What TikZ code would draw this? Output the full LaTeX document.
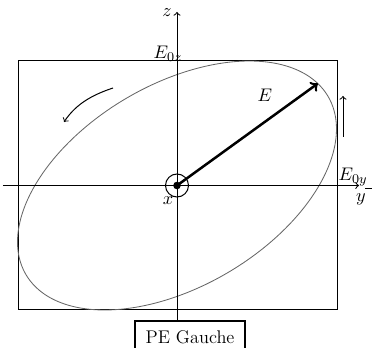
\documentclass[tikz,border=0pt]{standalone}
\begin{document}
\begin{tikzpicture}[x=0.6pt,y=-0.6pt,font=\fontsize{11}{13}\selectfont,
  axis/.style={line width=0.6pt,black},
  frame/.style={line width=0.6pt,black},
  ell/.style={line width=0.5pt,black!60},
  vec/.style={line width=1.5pt,black,-to},
  rot/.style={line width=0.6pt,black,-to},
  lab/.style={inner sep=0pt},
  pebox/.style={draw,line width=1.6pt,minimum width=66pt,minimum height=19pt,inner sep=0pt,fill=white}]
\useasboundingbox (0,0) rectangle (372,348);
\draw[frame] (18,61) rectangle (337,310);
\coordinate (O) at (177,185.5);
\coordinate (ys) at (3,185.5);
\coordinate (ye) at (359,185.5);
\coordinate (zt) at (177,12);
\draw[ell] plot[domain=0:360,samples=150,smooth] ({177+159.5*cos(\x)},{185.5-124.5*cos(\x-63)});
\draw[axis,-to] (ys) -- (ye);
\node[pebox] (pe) at (190,337) {PE Gauche};
\draw[axis,-to] (O |- pe.north) -- (zt);
\coordinate (Etip) at ({177+159.5*cos(28)},{185.5-124.5*cos(28-63)});
\draw[vec] (O) -- (Etip);
\draw[line width=0.6pt] (O) circle[radius=11.5];
\fill (O) circle[radius=3.8];
\coordinate (r1) at (113,88);
\coordinate (r2) at (64,122);
\draw[rot] (r1) .. controls (92,95) and (76,104) .. (r2);
\coordinate (v1) at (343,137);
\coordinate (v2) at (343,96);
\draw[rot] (v1) -- (v2);
\coordinate (d1) at (365,189);
\coordinate (d2) at (372,189);
\draw[line width=0.6pt] (d1) -- (d2);
\node[lab] (zl) at (167,12.5) {$z$};
\node[lab] (e0z) at (168,54) {$E_{0z}$};
\node[lab] (xl) at (168,201) {$x$};
\node[lab] (el) at (265,95) {$E$};
\node[lab] (e0y) at (353,177) {$E_{0y}$};
\node[lab] (yl) at (361,199) {$y$};
\end{tikzpicture}
\end{document}
